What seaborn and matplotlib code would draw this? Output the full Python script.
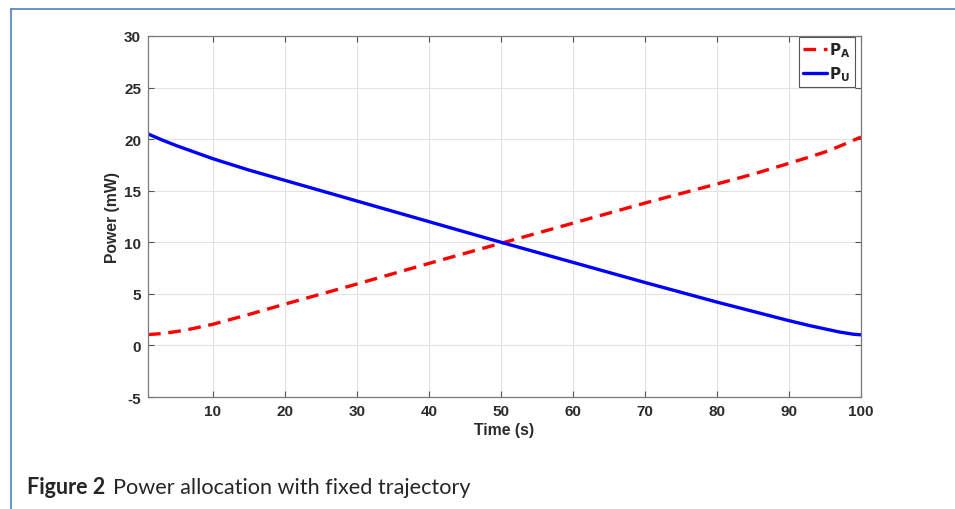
import numpy as np
import pandas as pd
import seaborn as sns
import matplotlib.pyplot as plt
from matplotlib.lines import Line2D

# values
time_s = [1, 3, 5, 7, 10, 15, 20, 30, 40, 50, 60, 70, 80, 85, 90, 93, 95, 97, 99, 100]
power_a = [1.05, 1.15, 1.35, 1.6, 2.05, 3.0, 4.0, 5.95, 7.95, 9.9, 11.85, 13.8, 15.65,
           16.6, 17.65, 18.3, 18.75, 19.3, 19.9, 20.2]
power_u = [20.5, 19.9, 19.35, 18.85, 18.1, 17.0, 16.0, 14.0, 12.0, 10.0, 8.05, 6.1, 4.2,
           3.3, 2.4, 1.9, 1.6, 1.3, 1.08, 1.03]
x_ticks = [10, 20, 30, 40, 50, 60, 70, 80, 90, 100]
y_ticks = [-5, 0, 5, 10, 15, 20, 25, 30]

sns.set_style('whitegrid')
plt.rcParams['font.family'] = ['Liberation Sans', 'DejaVu Sans']

fig = plt.figure(figsize=(9.55, 5.1), dpi=100)
ax = fig.add_axes([0.155, 0.2196, 0.7466, 0.708])

sns.lineplot(x=time_s, y=power_a, ax=ax, color='#ff0000', linewidth=2.4,
             linestyle=(0, (3.8, 2.3)), label=r'$\mathbf{P_A}$')
sns.lineplot(x=time_s, y=power_u, ax=ax, color='#0000ff', linewidth=2.4,
             label=r'$\mathbf{P_U}$')

ax.set_xlim(1, 100)
ax.set_ylim(-5, 30)
ax.set_xticks(x_ticks)
ax.set_yticks(y_ticks)
ax.set_xticklabels([str(t) for t in x_ticks], fontsize=11, fontweight='bold', color='#2b2b2b')
ax.set_yticklabels([str(t) for t in y_ticks], fontsize=11, fontweight='bold', color='#2b2b2b')
ax.set_xlabel('Time (s)', fontsize=11.3, fontweight='bold', color='#2b2b2b', labelpad=3)
ax.set_ylabel('Power (mW)', fontsize=11.3, fontweight='bold', color='#2b2b2b', labelpad=3)

ax.grid(True, color='#e3e3e3', linewidth=0.8)
ax.tick_params(direction='in', length=4, width=0.8, color='#555555',
               top=True, right=True, bottom=True, left=True, pad=5)
for s in ax.spines.values():
    s.set_visible(True)
    s.set_color('#7a7a7a')
    s.set_linewidth(0.9)

leg = ax.legend(loc='upper right', bbox_to_anchor=(0.991, 0.998), fontsize=11,
                handlelength=1.6, handletextpad=0.15, borderpad=0.25, labelspacing=0.35,
                fancybox=False, framealpha=1, borderaxespad=0)
leg.get_frame().set_edgecolor('#555555')
leg.get_frame().set_linewidth(0.8)

# page frame around the figure
fig.add_artist(Line2D([0.011, 1.0], [0.981, 0.981], color='#4f7fbf', linewidth=1.2))
fig.add_artist(Line2D([0.011, 0.011], [0.0, 0.981], color='#4f7fbf', linewidth=1.2))

fig.text(0.028, 0.031, 'Figure 2', fontsize=15.5, fontweight='bold',
         family=['Lato', 'DejaVu Sans'], va='baseline')
fig.text(0.118, 0.031, 'Power allocation with fixed trajectory', fontsize=15.6,
         family=['Lato', 'DejaVu Sans'], va='baseline')

fig.savefig('out.png', dpi=100)
